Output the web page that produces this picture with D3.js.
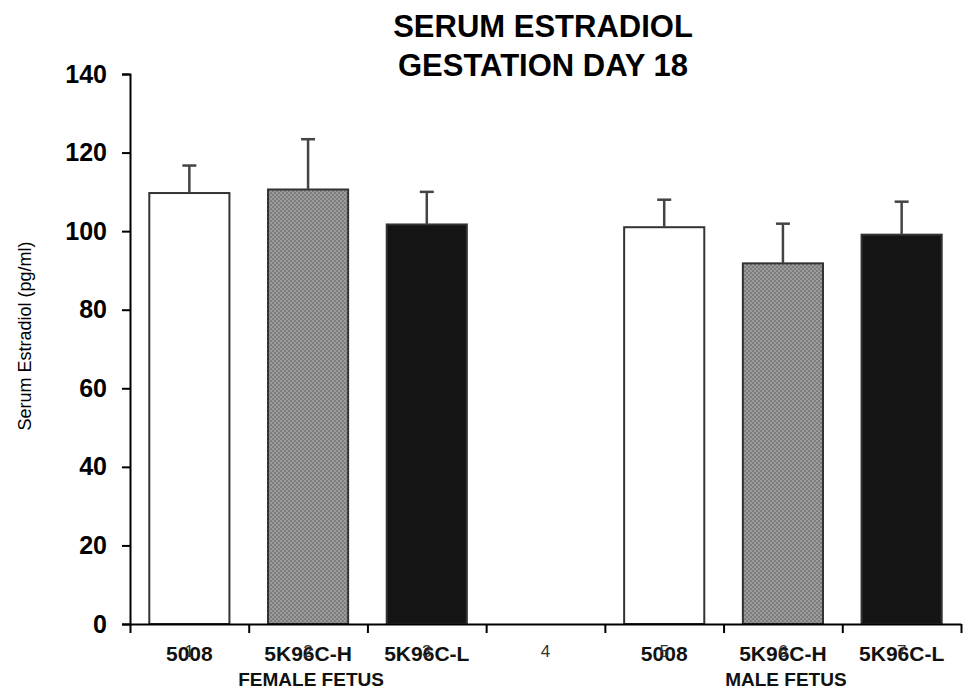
<!DOCTYPE html>
<html>
<head>
<meta charset="utf-8">
<script src="https://cdn.jsdelivr.net/npm/d3@7"></script>
<style>
  body { margin: 0; background: #fff; }
  text { font-family: "Liberation Sans", Arial, sans-serif; }
</style>
</head>
<body>
<div id="chart"></div>
<script>
// data
const positions = [1, 2, 3, 4, 5, 6, 7];
const treatments = ["5008", "5K96C-H", "5K96C-L", "", "5008", "5K96C-H", "5K96C-L"];
const means = [109.7, 110.6, 101.7, null, 101.0, 91.8, 99.1];
const sems = [7.0, 12.8, 8.3, null, 7.0, 10.1, 8.4];
const groups = ["FEMALE FETUS", "MALE FETUS"];
const groupPos = [2, 6];
const yTicks = [0, 20, 40, 60, 80, 100, 120, 140];
const fills = ["white", "url(#dots)", "#141414", "none", "white", "url(#dots)", "#141414"];

const W = 963, H = 692;
const margin = {top: 74, right: 2, bottom: 68, left: 130},
      width = W - margin.left - margin.right,
      height = H - margin.top - margin.bottom;

const root = d3.select("#chart").append("svg")
    .attr("width", W)
    .attr("height", H);

// gray dotted fill
const pat = root.append("defs").append("pattern")
    .attr("id", "dots")
    .attr("width", 4).attr("height", 4)
    .attr("patternUnits", "userSpaceOnUse");
pat.append("rect").attr("width", 4).attr("height", 4).attr("fill", "#7c7c7c");
pat.append("rect").attr("width", 2).attr("height", 2).attr("fill", "#9c9c9c");
pat.append("rect").attr("x", 2).attr("y", 2).attr("width", 2).attr("height", 2).attr("fill", "#9c9c9c");

const svg = root.append("g")
    .attr("transform", `translate(${margin.left},${margin.top})`);

const x = d3.scaleLinear()
    .domain([0.5, 7.5])
    .range([0, width]);
const y = d3.scaleLinear()
    .domain([0, 140])
    .range([height, 0]);

const band = x(1.5) - x(0.5);
const barW = band * 0.675;

// title
root.append("text")
    .attr("x", 543).attr("y", 37)
    .attr("text-anchor", "middle")
    .style("font-size", "31px").style("font-weight", "bold")
    .text("SERUM ESTRADIOL");
root.append("text")
    .attr("x", 543).attr("y", 76)
    .attr("text-anchor", "middle")
    .style("font-size", "31px").style("font-weight", "bold")
    .text("GESTATION DAY 18");

// y axis title
root.append("text")
    .attr("transform", "translate(31,336) rotate(-90)")
    .attr("text-anchor", "middle")
    .style("font-size", "18px")
    .attr("fill", "#000")
    .text("Serum Estradiol (pg/ml)");

// bars
const rows = positions.map((p, i) => ({p: p, m: means[i], e: sems[i], f: fills[i]}))
    .filter(d => d.m != null);

svg.selectAll(".bar")
    .data(rows)
  .enter().append("rect")
    .attr("class", "bar")
    .attr("x", d => x(d.p) - barW / 2)
    .attr("y", d => y(d.m))
    .attr("width", barW)
    .attr("height", d => y(0) - y(d.m))
    .attr("fill", d => d.f)
    .attr("stroke", "#333")
    .attr("stroke-width", 2);

// error bars (upper only)
const err = svg.selectAll(".err")
    .data(rows)
  .enter().append("g")
    .attr("class", "err")
    .attr("stroke", "#444")
    .attr("stroke-width", 2.5);
err.append("line")
    .attr("x1", d => x(d.p)).attr("x2", d => x(d.p))
    .attr("y1", d => y(d.m)).attr("y2", d => y(d.m + d.e));
err.append("line")
    .attr("x1", d => x(d.p) - 7).attr("x2", d => x(d.p) + 7)
    .attr("y1", d => y(d.m + d.e)).attr("y2", d => y(d.m + d.e));

// y axis
const yAxis = svg.append("g")
    .call(d3.axisLeft(y).tickValues(yTicks).tickSize(8).tickPadding(15));
yAxis.select(".domain").attr("stroke", "#000").attr("stroke-width", 2);
yAxis.selectAll(".tick line").attr("stroke", "#000").attr("stroke-width", 2);
yAxis.selectAll(".tick text")
    .style("font-size", "25px").style("font-weight", "bold")
    .style("font-family", "'Liberation Sans', Arial, sans-serif")
    .attr("fill", "#000");

// x axis: ticks on band boundaries
const xAxis = svg.append("g")
    .attr("transform", `translate(0,${height})`)
    .call(d3.axisBottom(x)
        .tickValues(d3.range(0.5, 8, 1))
        .tickSize(9)
        .tickSizeOuter(0)
        .tickFormat(""));
xAxis.select(".domain").attr("stroke", "#000").attr("stroke-width", 2);
xAxis.selectAll(".tick line").attr("stroke", "#000").attr("stroke-width", 2);

// treatment labels
svg.selectAll(".cat")
    .data(positions)
  .enter().append("text")
    .attr("class", "cat")
    .attr("x", d => x(d))
    .attr("y", height + 37)
    .attr("text-anchor", "middle")
    .style("font-size", "21px").style("font-weight", "bold")
    .attr("fill", "#111")
    .text((d, i) => treatments[i]);

// position numbers (drawn over the treatment labels, as in the source)
svg.selectAll(".num")
    .data(positions)
  .enter().append("text")
    .attr("class", "num")
    .attr("x", d => x(d))
    .attr("y", height + 33)
    .attr("text-anchor", "middle")
    .style("font-size", "17px")
    .attr("fill", "#333")
    .text(d => d);

// group labels
svg.selectAll(".grp")
    .data(groups)
  .enter().append("text")
    .attr("class", "grp")
    .attr("x", (d, i) => x(groupPos[i]) + 3)
    .attr("y", height + 62)
    .attr("text-anchor", "middle")
    .style("font-size", "19px").style("font-weight", "bold")
    .attr("fill", "#111")
    .text(d => d);
</script>
</body>
</html>
